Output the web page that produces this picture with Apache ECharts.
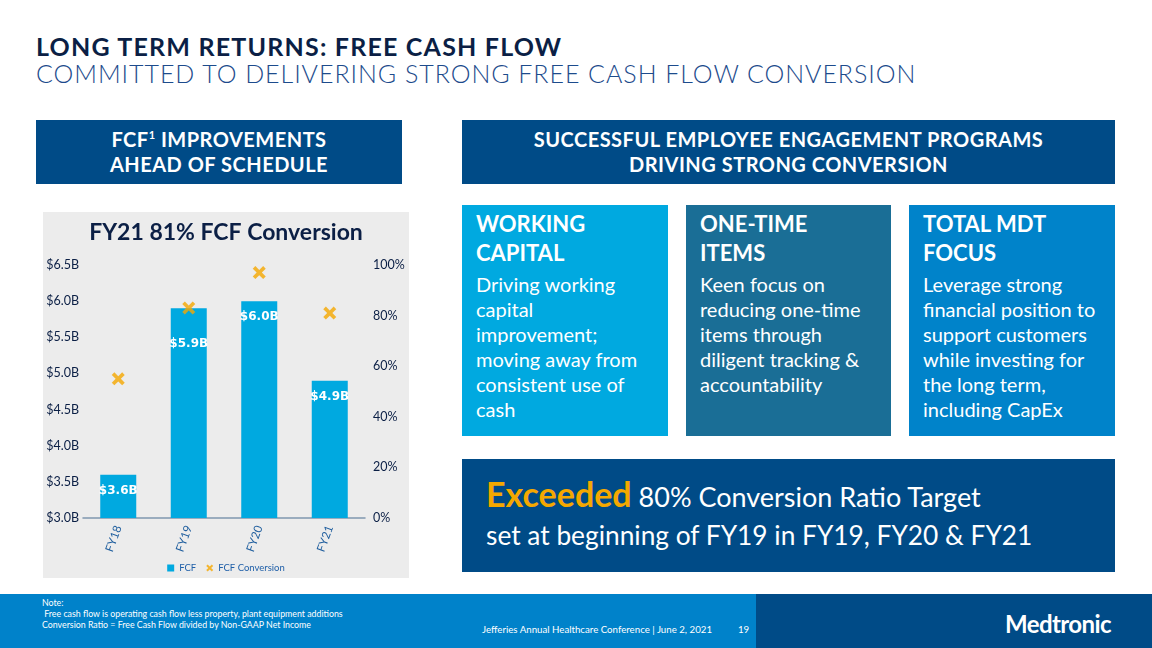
<!DOCTYPE html>
<html>
<head>
<meta charset="utf-8">
<script src="https://cdn.jsdelivr.net/npm/echarts@6/dist/echarts.min.js"></script>
<style>
  html, body { margin: 0; padding: 0; }
  body { width: 1152px; height: 648px; position: relative; overflow: hidden; background: #fff; font-family: Lato, 'Noto Sans', sans-serif; }
  .abs { position: absolute; }
  .title { left: 36px; top: 31px; font-size: 25px; font-weight: 700; color: #0b1f45; letter-spacing: 1.2px; white-space: nowrap; }
  .subtitle { left: 36px; top: 58px; font-size: 25px; font-weight: 300; color: #1d4b8c; letter-spacing: 0.95px; white-space: nowrap; }
  .hdr { background: #004b87; color: #fff; font-weight: 700; font-size: 20px; line-height: 25px; text-align: center; letter-spacing: 0.5px; }
  .hdr div { position: absolute; left: 0; right: 0; top: 7px; }
  .card { color: #fff; box-sizing: border-box; padding: 4px 0 0 14px; white-space: nowrap; }
  .card h3 { margin: 0; font-size: 22px; line-height: 29px; font-weight: 700; }
  .card p { margin: 5px 0 0 0; font-size: 20px; line-height: 25px; font-weight: 400; }
  .footer-l { left: 0; top: 594px; width: 756px; height: 54px; background: #0082ca; }
  .footer-r { left: 756px; top: 594px; width: 396px; height: 54px; background: #004b87; }
  .note { left: 42px; top: 597px; font-size: 8.8px; line-height: 11px; color: #fff; white-space: nowrap; }
</style>
</head>
<body>
<div class="abs title">LONG TERM RETURNS: FREE CASH FLOW</div>
<div class="abs subtitle">COMMITTED TO DELIVERING STRONG FREE CASH FLOW CONVERSION</div>

<div class="abs hdr" style="left:36px;top:120px;width:366px;height:64px;"><div>FCF<sup style="font-size:11px;line-height:0;">1</sup> IMPROVEMENTS<br>AHEAD OF SCHEDULE</div></div>
<div class="abs hdr" style="left:462px;top:120px;width:653px;height:64px;"><div>SUCCESSFUL EMPLOYEE ENGAGEMENT PROGRAMS<br>DRIVING STRONG CONVERSION</div></div>

<div id="chart" class="abs" style="left:43px;top:212px;width:366px;height:366px;background:#ececec;"></div>

<div class="abs card" style="left:462px;top:205px;width:206px;height:231px;background:#00a9e0;">
  <h3>WORKING<br>CAPITAL</h3>
  <p>Driving working<br>capital<br>improvement;<br>moving away from<br>consistent use of<br>cash</p>
</div>
<div class="abs card" style="left:686px;top:205px;width:205px;height:231px;background:#1a6e96;">
  <h3>ONE-TIME<br>ITEMS</h3>
  <p>Keen focus on<br>reducing one-time<br>items through<br>diligent tracking &amp;<br>accountability</p>
</div>
<div class="abs card" style="left:909px;top:205px;width:206px;height:231px;background:#0083ca;">
  <h3>TOTAL MDT<br>FOCUS</h3>
  <p>Leverage strong<br>financial position to<br>support customers<br>while investing for<br>the long term,<br>including CapEx</p>
</div>

<div class="abs" style="left:462px;top:459px;width:653px;height:113px;background:#004b87;color:#fff;">
  <div class="abs" style="left:24px;top:14px;font-size:27px;white-space:nowrap;"><span style="color:#f5a800;font-weight:700;font-size:34px;">Exceeded</span> 80% Conversion Ratio Target</div>
  <div class="abs" style="left:24px;top:60px;font-size:26.3px;white-space:nowrap;">set at beginning of FY19 in FY19, FY20 &amp; FY21</div>
</div>

<div class="abs footer-l"></div>
<div class="abs footer-r"></div>
<div class="abs note">Note:<br>&nbsp;Free cash flow is operating cash flow less property, plant equipment additions<br>Conversion Ratio = Free Cash Flow divided by Non-GAAP Net Income</div>
<div class="abs" style="left:482px;top:623px;font-size:9.7px;color:#fff;white-space:nowrap;">Jefferies Annual Healthcare Conference | June 2, 2021</div>
<div class="abs" style="left:738px;top:623px;font-size:9.7px;color:#fff;">19</div>
<div class="abs" style="left:1005px;top:609px;font-size:24px;font-weight:700;color:#fff;letter-spacing:-0.6px;">Medtronic</div>

<script>
const years = ['FY18', 'FY19', 'FY20', 'FY21'];
const fcfValues = [3.6, 5.9, 6.0, 4.9];          // $B
const conversionValues = [55, 83, 97, 81];      // %
const fcfAxis = { min: 3.0, max: 6.5, interval: 0.5 };
const pctAxis = { min: 0, max: 100, interval: 20 };

const xMark = 'path://M2,0 L5,3 L8,0 L10,2 L7,5 L10,8 L8,10 L5,7 L2,10 L0,8 L3,5 L0,2 Z';
const navy = '#0b1f45';

const chart = echarts.init(document.getElementById('chart'));

chart.setOption({
  animation: false,
  title: {
    text: 'FY21 81% FCF Conversion',
    left: 'center',
    top: 4,
    textStyle: { fontSize: 23, fontWeight: 'bold', color: navy, fontFamily: 'Lato' }
  },
  legend: {
    bottom: 0,
    left: 'center',
    itemWidth: 7,
    itemHeight: 7,
    itemGap: 10,
    textStyle: { fontSize: 9.5, color: '#1f5fa8', fontFamily: 'Lato' },
    data: [
      { name: 'FCF', icon: 'rect' },
      { name: 'FCF Conversion', icon: xMark }
    ]
  },
  grid: { left: 40, right: 44, top: 53, bottom: 60 },
  xAxis: {
    type: 'category',
    data: years,
    axisLine: { lineStyle: { color: '#7f97ae', width: 1.5 } },
    axisTick: { show: false },
    axisLabel: { rotate: 70, color: '#1f5e9e', fontSize: 11.5, margin: 8, fontFamily: 'Lato' }
  },
  yAxis: [
    {
      type: 'value',
      min: fcfAxis.min,
      max: fcfAxis.max,
      interval: fcfAxis.interval,
      splitLine: { show: false },
      axisLine: { show: false },
      axisTick: { show: false },
      axisLabel: {
        color: navy, fontSize: 12.5, margin: 4, fontFamily: 'Lato',
        formatter: v => '$' + v.toFixed(1) + 'B'
      }
    },
    {
      type: 'value',
      min: pctAxis.min,
      max: pctAxis.max,
      interval: pctAxis.interval,
      splitLine: { show: false },
      axisLine: { show: false },
      axisTick: { show: false },
      axisLabel: {
        color: navy, fontSize: 12.5, margin: 8, fontFamily: 'Lato',
        formatter: v => v + '%'
      }
    }
  ],
  series: [
    {
      name: 'FCF',
      type: 'bar',
      barWidth: 36,
      itemStyle: { color: '#00a9e0' },
      label: {
        show: true,
        position: 'insideTop',
        distance: 10,
        color: '#fff',
        fontWeight: 'bold',
        fontSize: 12,
        fontFamily: 'DejaVu Sans',
        formatter: p => '$' + p.value.toFixed(1) + 'B'
      },
      // FY19 label sits lower so it clears the marker
      data: fcfValues.map((v, i) => i === 1 ? { value: v, label: { distance: 30 } } : v)
    },
    {
      name: 'FCF Conversion',
      type: 'scatter',
      yAxisIndex: 1,
      symbol: xMark,
      symbolSize: 13,
      itemStyle: { color: '#f5a800' },
      data: conversionValues
    }
  ]
});
</script>
</body>
</html>
